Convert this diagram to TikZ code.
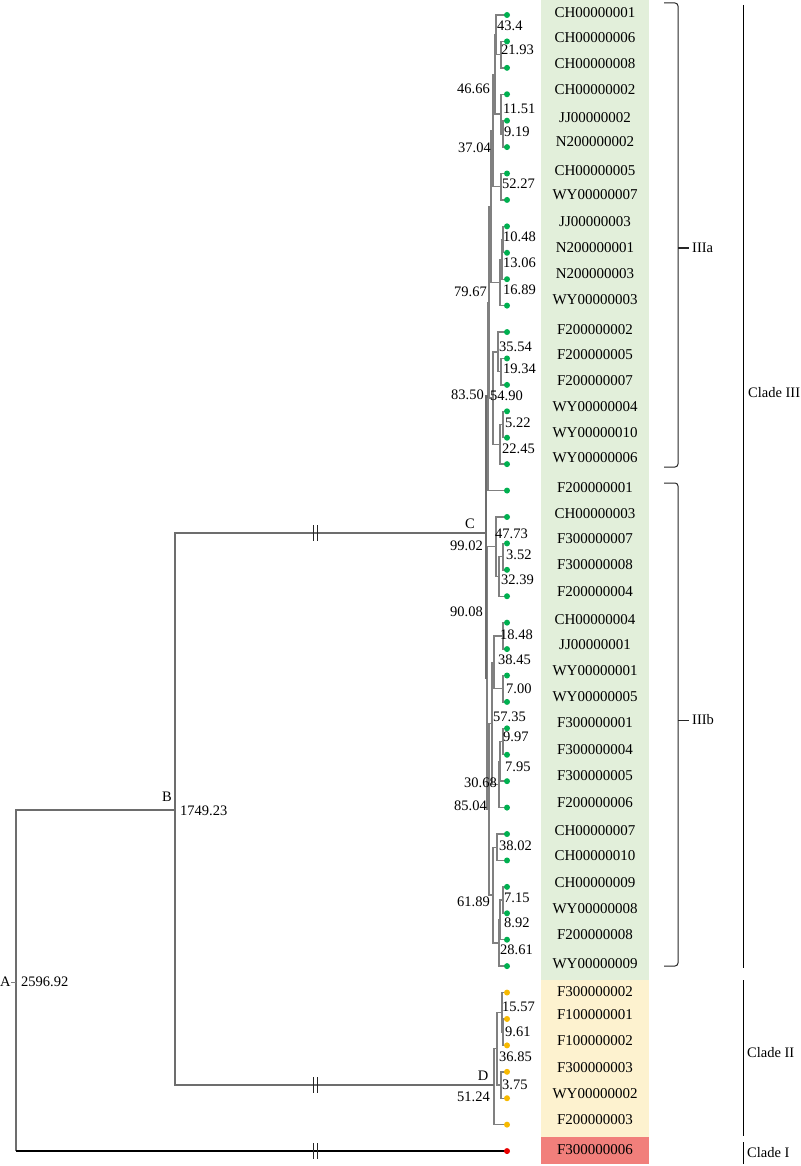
\documentclass[tikz,border=0pt]{standalone}
\usepackage{fontspec}
\setmainfont{Liberation Serif}

\definecolor{bggreen}{RGB}{226,239,218}
\definecolor{bgyellow}{RGB}{253,242,207}
\definecolor{bgred}{RGB}{241,127,123}
\definecolor{dotgreen}{RGB}{0,176,80}
\definecolor{dotyellow}{RGB}{247,185,0}
\definecolor{dotred}{RGB}{232,0,0}
\definecolor{branch}{RGB}{128,128,128}

\begin{document}
\begin{tikzpicture}[x=1pt,y=-1pt,
    br/.style={draw=branch,line width=1.4pt},
    trunk/.style={draw=branch!85!black,line width=2.3pt},
    rootline/.style={draw=black,line width=2pt},
    brk/.style={draw=black!85,line width=1pt},
    leaf/.style={inner sep=0pt,font=\fontsize{15}{18}\selectfont},
    num/.style={inner sep=0pt,font=\fontsize{14.5}{17}\selectfont},
    tip/.style={circle,inner sep=0pt,minimum size=6pt},
    clade/.style={draw=black,line width=0.9pt},
    brace/.style={draw=black!85,line width=1pt,rounded corners=3pt}]
    \useasboundingbox (0,0) rectangle (800,1166);
    \fill[bggreen] (541,0) rectangle (649,980);
    \fill[bgyellow] (541,980) rectangle (649,1137);
    \fill[bgred] (541,1137) rectangle (649,1164);
    % tips and names
    \foreach \name/\ty [count=\i] in {CH00000001/13,CH00000006/38,CH00000008/64,CH00000002/90,
        JJ00000002/118,N200000002/142,CH00000005/171,WY00000007/195,JJ00000003/222,
        N200000001/248,N200000003/274,WY00000003/300,F200000002/330,F200000005/355,
        F200000007/381,WY00000004/407,WY00000010/433,WY00000006/458,F200000001/488,
        CH00000003/514,F300000007/539,F300000008/565,F200000004/592,CH00000004/620,
        JJ00000001/645,WY00000001/671,WY00000005/697,F300000001/723,F300000004/750,
        F300000005/776,F200000006/803,CH00000007/831,CH00000010/856,CH00000009/883,
        WY00000008/909,F200000008/935,WY00000009/964,F300000002/992,F100000001/1015,
        F100000002/1041,F300000003/1068,WY00000002/1094,F200000003/1120,F300000006/1150}{
      \pgfmathsetmacro\yy{15+26.42*(\i-1)}
      \coordinate (l\i) at (507,\yy);
      \node[leaf] (t\i) at (595,\ty) {\name};
    }
    % clade III
    \coordinate (n21) at (501,54.6);
    \coordinate (n43) at (496,34.8);
    \coordinate (n9) at (503,133.9);
    \coordinate (n11) at (501,114.1);
    \coordinate (n46) at (495,74.5);
    \coordinate (n52) at (501,186.7);
    \coordinate (n37) at (493,130.6);
    \coordinate (n10) at (503,239.6);
    \coordinate (n13) at (502,259.4);
    \coordinate (n16) at (500,282.5);
    \coordinate (n79) at (491,206.6);
    \coordinate (n19) at (501,371.7);
    \coordinate (n35) at (498,351.9);
    \coordinate (n5) at (503,424.5);
    \coordinate (n22) at (500,444.3);
    \coordinate (n54) at (493,398.1);
    \coordinate (n83) at (489,302.4);
    \coordinate (n3a) at (488,396.5);
    \coordinate (n3) at (503,556.6);
    \coordinate (n32) at (499,576.4);
    \coordinate (n47) at (496,546.7);
    \coordinate (n18) at (503,635.9);
    \coordinate (n7) at (503,688.7);
    \coordinate (n38) at (494,662.3);
    \coordinate (n997) at (503,741.6);
    \coordinate (n795) at (500,761.4);
    \coordinate (n30) at (499,784.5);
    \coordinate (n57) at (492,723.4);
    \coordinate (n3802) at (497,847.2);
    \coordinate (n715) at (503,900.1);
    \coordinate (n892) at (500,919.9);
    \coordinate (n28) at (499,943);
    \coordinate (n61) at (493,895.1);
    \coordinate (n85) at (489,809.3);
    \coordinate (n90) at (487,678);
    \coordinate (nC) at (486,533);
    % clade II
    \coordinate (n961) at (503,1032.2);
    \coordinate (n15) at (502,1012.4);
    \coordinate (n375) at (501,1085);
    \coordinate (n36) at (497,1048.7);
    \coordinate (nD) at (494,1085);
    % root
    \coordinate (nB) at (175,810);
    \coordinate (nA) at (16,982);
    \foreach \p/\a/\b in {n21/l2/l3,n43/l1/n21,n9/l5/l6,n11/l4/n9,n46/n43/n11,n52/l7/l8,
        n37/n46/n52,n10/l9/l10,n13/n10/l11,n16/n13/l12,n79/n37/n16,n19/l14/l15,
        n35/l13/n19,n5/l16/l17,n22/n5/l18,n54/n35/n22,n83/n79/n54,n3a/n83/l19,
        n3/l21/l22,n32/n3/l23,n47/l20/n32,n18/l24/l25,n7/l26/l27,n38/n18/n7,
        n997/l28/l29,n795/n997/l30,n30/n795/l31,n57/n38/n30,n3802/l32/l33,
        n715/l34/l35,n892/n715/l36,n28/n892/l37,n61/n3802/n28,n85/n57/n61,
        n90/n47/n85,n961/l39/l40,n15/l38/n961,n375/l41/l42,n36/n15/n375,nD/n36/l43}
      \draw[br] (\p) |- (\a) (\p) |- (\b);
    \draw[trunk] (nC) |- (n3a) (nC) |- (n90);
    \draw[trunk] (nB) |- (nC) (nB) |- (nD);
    \draw[trunk] (nA) |- (nB) (nA) -- (nA |- l44);
    \draw[rootline] (nA |- l44) -- (l44);
    \foreach \y in {533,1085,1151}
      \draw[brk] (313,\y-8) -- (313,\y+8) (317,\y-8) -- (317,\y+8);
    \foreach \i in {1,...,44}{
      \ifnum\i<38 \def\dc{dotgreen}\else\ifnum\i<44 \def\dc{dotyellow}\else\def\dc{dotred}\fi\fi
      \node[tip,fill=\dc] (d\i) at (l\i) {};
    }
    % node ages
    \node[num,anchor=west] (lb434) at (497,26) {43.4};
    \node[num,anchor=west] (lb2193) at (501,50) {21.93};
    \node[num,anchor=west] (lb1151) at (503,109) {11.51};
    \node[num,anchor=west] (lb919) at (504,132) {9.19};
    \node[num,anchor=west] (lb5227) at (502,184) {52.27};
    \node[num,anchor=west] (lb1048) at (503,237) {10.48};
    \node[num,anchor=west] (lb1306) at (503,263) {13.06};
    \node[num,anchor=west] (lb1689) at (503,290) {16.89};
    \node[num,anchor=west] (lb3554) at (499,347) {35.54};
    \node[num,anchor=west] (lb1934) at (503,369) {19.34};
    \node[num,anchor=west] (lb5490) at (490,396) {54.90};
    \node[num,anchor=west] (lb522) at (505,423) {5.22};
    \node[num,anchor=west] (lb2245) at (502,449) {22.45};
    \node[num,anchor=west] (lb4773) at (495,534) {47.73};
    \node[num,anchor=west] (lb352) at (506,555) {3.52};
    \node[num,anchor=west] (lb3239) at (501,580) {32.39};
    \node[num,anchor=west] (lb1848) at (500,635) {18.48};
    \node[num,anchor=west] (lb3845) at (498,660) {38.45};
    \node[num,anchor=west] (lb700) at (506,689) {7.00};
    \node[num,anchor=west] (lb5735) at (493,717) {57.35};
    \node[num,anchor=west] (lb997) at (503,737) {9.97};
    \node[num,anchor=west] (lb795) at (505,767) {7.95};
    \node[num,anchor=west] (lb3802) at (499,846) {38.02};
    \node[num,anchor=west] (lb715) at (504,898) {7.15};
    \node[num,anchor=west] (lb892) at (504,923) {8.92};
    \node[num,anchor=west] (lb2861) at (500,950) {28.61};
    \node[num,anchor=west] (lb1557) at (502,1007) {15.57};
    \node[num,anchor=west] (lb961) at (505,1032) {9.61};
    \node[num,anchor=west] (lb3685) at (499,1057) {36.85};
    \node[num,anchor=west] (lb375) at (502,1085) {3.75};
    \node[num,anchor=east] (lb4666) at (490,89) {46.66};
    \node[num,anchor=east] (lb3704) at (491,148) {37.04};
    \node[num,anchor=east] (lb7967) at (487,292) {79.67};
    \node[num,anchor=east] (lb8350) at (484,395) {83.50};
    \node[num,anchor=east] (lb9902) at (483,546) {99.02};
    \node[num,anchor=east] (lb9008) at (483,612) {90.08};
    \node[num,anchor=east] (lb3068) at (497,783) {30.68};
    \node[num,anchor=east] (lb8504) at (487,806) {85.04};
    \node[num,anchor=east] (lb6189) at (490,902) {61.89};
    \node[num,anchor=east] (lb5124) at (490,1097) {51.24};
    \node[num,anchor=west] (lb174923) at (180,811) {1749.23};
    \node[num,anchor=west] (lb259692) at (21,982) {2596.92};
    \node[num] (labC) at (470,524) {C};
    \node[num] (labD) at (483,1076) {D};
    \node[num] (labB) at (167,797) {B};
    \node[num,anchor=west] (labA) at (0,982) {A};
    \draw[br,line width=1pt] (labA.east) -- (nA);
    % brackets
    \node[num,anchor=west] (IIIa) at (692,248) {IIIa};
    \node[num,anchor=west] (IIIb) at (692,720) {IIIb};
    \draw[brace] (664,3) -- (678,3) -- (678,467) -- (664,467);
    \draw[brace] (678,248) -- ([xshift=-3pt]IIIa.west);
    \draw[brace] (664,483) -- (678,483) -- (678,966) -- (664,966);
    \draw[brace] (678,720) -- ([xshift=-3pt]IIIb.west);
    \node[num,anchor=west] (cl3) at (748,393) {Clade III};
    \node[num,anchor=west] (cl2) at (747,1053) {Clade II};
    \node[num,anchor=west] (cl1) at (747,1153) {Clade I};
    \draw[clade] (743,5) -- (743,968);
    \draw[clade] (743,980) -- (743,1136);
    \draw[clade] (743,1142) -- (743,1164);
\end{tikzpicture}
\end{document}
